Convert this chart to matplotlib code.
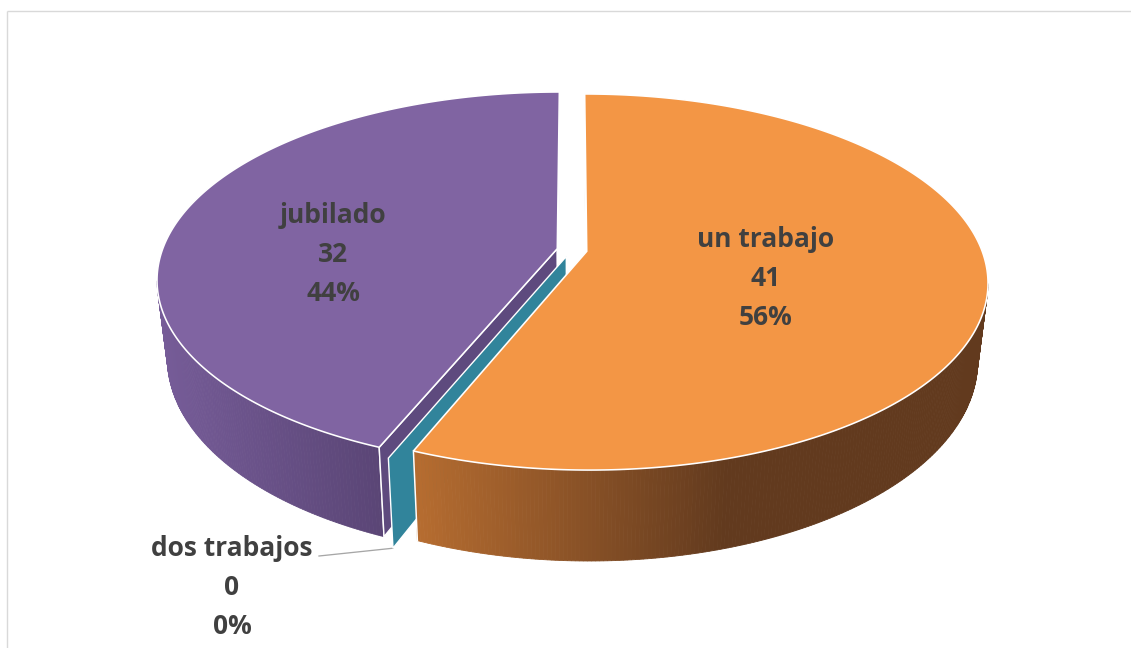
import numpy as np
import matplotlib
matplotlib.use("Agg")
import matplotlib.pyplot as plt
from matplotlib.patches import Polygon
from matplotlib.colors import to_rgb

# data
categories = ["un trabajo", "dos trabajos", "jubilado"]
values = [41, 0, 32]

# colours per slice: top face, side gradient (light -> dark), radial cut face
top_colors = ["#F39645", "#31849B", "#8064A2"]
side_light = ["#B56C30", "#31849B", "#765C98"]
side_dark = ["#623A1E", "#31849B", "#4F3C68"]
cut_colors = ["#6A4020", "#31849B", "#5E4A7E"]
text_color = "#404040"

# label anchors (pixels, baseline of first line)
label_pos = [(766, 247), (232, 556), (333, 223)]
draw_order = [2, 1, 0]

W, H = 1131, 648
CX, CY = 572, 250      # pie centre on screen
RX, RY = 395, 182.6    # top ellipse radii
K = 0.163              # perspective strength
TH = 76                # thickness
SB = 0.975             # bottom rim converge
EXPL = 0.038           # explode distance
GRAD_SPAN = 310
CAM = (0.0, -1.0 / K)
PT = 0.72              # px -> pt


def proj(x, y, bottom=False):
    x = np.asarray(x, float); y = np.asarray(y, float)
    w = 1 + K * y
    sx = CX + RX * x / w
    sy = CY - RY * y / w
    if bottom:
        sx = CX + (sx - CX) * SB
        sy = sy + TH / w
    return sx, sy


def facing(px, py, nx, ny):
    return nx * (CAM[0] - px) + ny * (CAM[1] - py) > 0


def mix(c1, c2, t):
    a = np.array(to_rgb(c1)); b = np.array(to_rgb(c2))
    return tuple(a + (b - a) * t)


fig = plt.figure(figsize=(W / 100, H / 100), dpi=100)
ax = fig.add_axes([0, 0, 1, 1])
ax.set_xlim(0, W)
ax.set_ylim(H, 0)
ax.axis("off")

# chart border
ax.plot([6.5, W], [10.5, 10.5], color="#D9D9D9", lw=1.4 * PT, solid_capstyle="butt")
ax.plot([6.5, 6.5], [10.5, H], color="#D9D9D9", lw=1.4 * PT, solid_capstyle="butt")

total = float(sum(values))
ang = np.concatenate([[0], np.cumsum(values)]) / total * 2 * np.pi

z = 2
teal_anchor = None
for i in draw_order:
    a0, a1 = ang[i], ang[i + 1]
    mid = (a0 + a1) / 2
    ox, oy = EXPL * np.sin(mid), EXPL * np.cos(mid)

    # outer side, shaded by screen x
    if a1 - a0 > 0:
        th = np.linspace(a0, a1, int(np.degrees(a1 - a0) * 2) + 2)
        tx, ty = proj(ox + np.sin(th), oy + np.cos(th))
        bx, by = proj(ox + np.sin(th), oy + np.cos(th), bottom=True)
        vis = []
        for j in range(len(th) - 1):
            tm = (th[j] + th[j + 1]) / 2
            nx, ny = np.sin(tm), np.cos(tm)
            vis.append(facing(ox + nx, oy + ny, nx, ny))
        vis_x = [min(tx[j], bx[j]) for j in range(len(th) - 1) if vis[j]]
        if vis_x:
            xl = min(vis_x)
            for j in range(len(th) - 1):
                if not vis[j]:
                    continue
                xm = (tx[j] + tx[j + 1]) / 2
                t = np.clip((xm - xl) / GRAD_SPAN, 0, 1)
                c = mix(side_light[i], side_dark[i], t)
                quad = [(tx[j], ty[j]), (tx[j + 1], ty[j + 1]),
                        (bx[j + 1], by[j + 1]), (bx[j], by[j])]
                ax.add_patch(Polygon(quad, closed=True, facecolor=c,
                                     edgecolor=c, lw=0.6, zorder=z))
            if vis[0]:
                ax.plot([tx[0], bx[0]], [ty[0], by[0]], color="white", lw=1.5 * PT, zorder=z + 0.5)
            if vis[-1]:
                ax.plot([tx[-1], bx[-1]], [ty[-1], by[-1]], color="white", lw=1.5 * PT, zorder=z + 0.5)

    # radial cut faces
    for a, sgn in ((a0, -1), (a1, 1)):
        nx, ny = np.sin(a + sgn * np.pi / 2), np.cos(a + sgn * np.pi / 2)
        px, py = ox + 0.5 * np.sin(a), oy + 0.5 * np.cos(a)
        if not facing(px, py, nx, ny):
            continue
        xs = [ox, ox + np.sin(a)]
        ys = [oy, oy + np.cos(a)]
        tx, ty = proj(xs, ys)
        bx, by = proj(xs, ys, bottom=True)
        quad = [(tx[0], ty[0]), (tx[1], ty[1]), (bx[1], by[1]), (bx[0], by[0])]
        ax.add_patch(Polygon(quad, closed=True, facecolor=cut_colors[i],
                             edgecolor="white", lw=1.4 * PT, zorder=z + 1))
        if a1 - a0 == 0:
            teal_anchor = (bx[1], by[1])
            break

    # top face
    if a1 - a0 > 0:
        th = np.linspace(a0, a1, int(np.degrees(a1 - a0) * 2) + 2)
        tx, ty = proj(ox + np.sin(th), oy + np.cos(th))
        cx0, cy0 = proj(ox, oy)
        pts = [(float(cx0), float(cy0))] + list(zip(tx, ty))
        ax.add_patch(Polygon(pts, closed=True, facecolor=top_colors[i],
                             edgecolor="white", lw=1.6 * PT, zorder=z + 2))
    z += 3

# data labels
fp = dict(family=["Open Sans", "DejaVu Sans"], weight="bold", size=19, color=text_color)
for i, name in enumerate(categories):
    pct = "{:.0f}%".format(100 * values[i] / total)
    lx, ly = label_pos[i]
    lines = [name, str(values[i]), pct]
    for k, s in enumerate(lines):
        txt = ax.text(lx, ly + 39 * k, s, ha="center", va="baseline", zorder=30, **fp)
    if values[i] == 0 and teal_anchor is not None:
        ax.plot([lx + 87, teal_anchor[0]], [ly, teal_anchor[1]], color="#A6A6A6",
                lw=1.3 * PT, zorder=1)

fig.savefig("out.png", dpi=100)
